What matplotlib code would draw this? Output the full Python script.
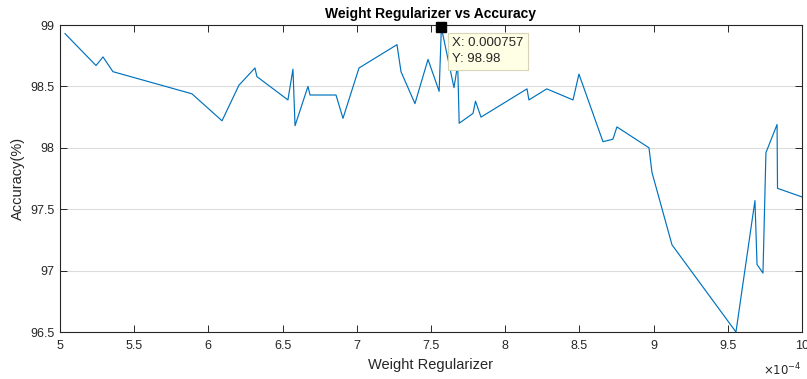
import matplotlib.pyplot as plt
from matplotlib.ticker import FuncFormatter

plt.rcParams['font.family'] = ['Liberation Sans', 'DejaVu Sans']

# weight regularizer values (units of 1e-4) and test accuracy
reg_e4 = [5.034, 5.243, 5.290, 5.357, 5.889, 6.092, 6.206, 6.314, 6.327, 6.536,
          6.570, 6.584, 6.671, 6.685, 6.860, 6.907, 7.015, 7.271, 7.298, 7.392,
          7.480, 7.555, 7.570, 7.655, 7.680, 7.690, 7.783, 7.800, 7.837, 8.147,
          8.160, 8.280, 8.457, 8.497, 8.659, 8.726, 8.753, 8.969, 8.989, 9.124,
          9.555, 9.683, 9.697, 9.737, 9.757, 9.832, 9.835, 10.0]
accuracy = [98.93, 98.67, 98.74, 98.62, 98.44, 98.22, 98.51, 98.65, 98.58, 98.39,
            98.64, 98.18, 98.50, 98.43, 98.43, 98.24, 98.65, 98.84, 98.62, 98.36,
            98.72, 98.46, 98.98, 98.49, 98.68, 98.20, 98.28, 98.38, 98.25, 98.48,
            98.39, 98.48, 98.39, 98.60, 98.05, 98.07, 98.17, 98.00, 97.80, 97.21,
            96.50, 97.57, 97.05, 96.98, 97.96, 98.19, 97.67, 97.60]

xticks = [5, 5.5, 6, 6.5, 7, 7.5, 8, 8.5, 9, 9.5, 10]
yticks = [96.5, 97, 97.5, 98, 98.5, 99]

tip = 22  # data tip index

fig = plt.figure(figsize=(8.07, 3.79), dpi=100)
ax = fig.add_axes([0.0743, 0.124, 0.9195, 0.810])

ax.plot(reg_e4, accuracy, color='#0072BD', lw=0.85)

ax.set_xlim(5, 10)
ax.set_ylim(96.5, 99)
ax.set_xticks(xticks)
ax.set_yticks(yticks)
fmt = FuncFormatter(lambda v, p: '%g' % v)
ax.xaxis.set_major_formatter(fmt)
ax.yaxis.set_major_formatter(fmt)

dark = '#262626'
for s in ax.spines.values():
    s.set_color(dark)
    s.set_linewidth(0.8)
ax.tick_params(direction='in', length=5, width=0.7, color=dark, labelcolor=dark,
               labelsize=9, top=True, right=True)
ax.tick_params(axis='x', pad=6)
ax.tick_params(axis='y', pad=4)
ax.grid(axis='y', color='#dcdcdc', lw=0.8)
ax.set_axisbelow(True)

ax.set_title('Weight Regularizer vs Accuracy', fontsize=10, fontweight='bold',
             color='black', pad=5)
ax.set_xlabel('Weight Regularizer', fontsize=10.5, color=dark, labelpad=4)
ax.set_ylabel('Accuracy(%)', fontsize=10.5, color=dark, labelpad=4)
ax.text(1.0, -0.125, r'$\times10^{-4}$', transform=ax.transAxes, ha='right',
        va='center', fontsize=8.5, color=dark)

# data tip
tx, ty = reg_e4[tip], accuracy[tip]
ax.plot([tx], [ty], marker='s', ms=6.5, color='black', clip_on=False, zorder=5)
ax.annotate('X: %g\nY: %.2f' % (tx * 1e-4, ty), xy=(tx, ty),
            xytext=(11, -10), textcoords='offset pixels', ha='left', va='top',
            fontsize=9.5, color='#262626', linespacing=1.4, zorder=6,
            bbox=dict(boxstyle='square,pad=0.35', fc='#ffffe6', ec='#d8d4b8', lw=0.8))

fig.savefig('out.png', dpi=100)
